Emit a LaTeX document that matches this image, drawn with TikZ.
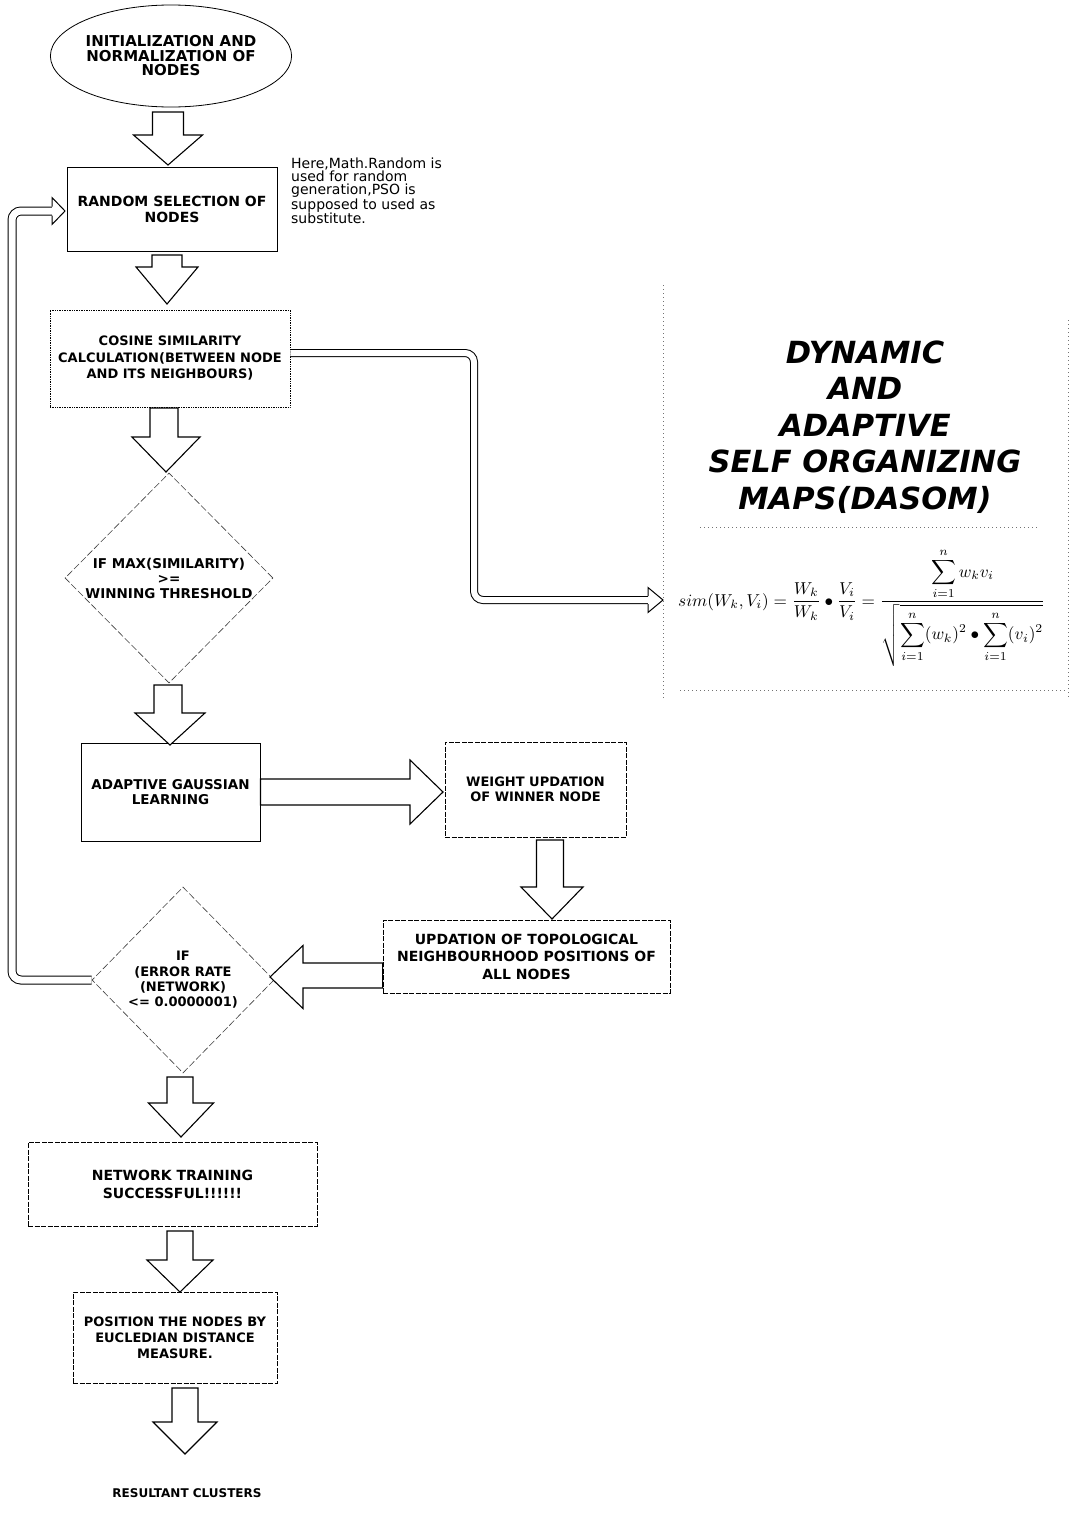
\documentclass[tikz,border=0pt]{standalone}
\usepackage{fontspec}
\setmainfont{DejaVu Sans}
\usepackage{graphicx}
\usetikzlibrary{shapes.geometric,calc}
\newcommand\fsz[2]{\fontsize{#1}{#2}\selectfont}
% vertical block arrow: #1 start, #2 tip, #3 shaft half width, #4 head half width, #5 head length
\newcommand\blockV[5]{\draw[blockarrow] let \p1=(#1), \p2=(#2) in
 (\x1-#3pt,\y1) -- (\x1-#3pt,\y2+#5pt) -- (\x2-#4pt,\y2+#5pt) -- (\x2,\y2) -- (\x2+#4pt,\y2+#5pt) -- (\x1+#3pt,\y2+#5pt) -- (\x1+#3pt,\y1) -- cycle;}
\newcommand\blockR[5]{\draw[blockarrow] let \p1=(#1), \p2=(#2) in
 (\x1,\y1+#3pt) -- (\x2-#5pt,\y1+#3pt) -- (\x2-#5pt,\y2+#4pt) -- (\x2,\y2) -- (\x2-#5pt,\y2-#4pt) -- (\x2-#5pt,\y1-#3pt) -- (\x1,\y1-#3pt) -- cycle;}
\newcommand\blockL[5]{\draw[blockarrow] let \p1=(#1), \p2=(#2) in
 (\x1,\y1+#3pt) -- (\x2+#5pt,\y1+#3pt) -- (\x2+#5pt,\y2+#4pt) -- (\x2,\y2) -- (\x2+#5pt,\y2-#4pt) -- (\x2+#5pt,\y1-#3pt) -- (\x1,\y1-#3pt) -- cycle;}
\begin{document}
\begin{tikzpicture}[x=1pt,y=-1pt,
  box/.style={draw, line width=0.9pt, align=center, inner sep=0pt, font=\bfseries},
  dbox/.style={box, dash pattern=on 5pt off 1.5pt},
  dotbox/.style={box, line width=0.7pt, densely dotted},
  decision/.style={diamond, aspect=1, draw=black!75, line width=0.6pt, dash pattern=on 7pt off 2.5pt, align=center, inner sep=0pt, font=\bfseries},
  blockarrow/.style={draw=black, fill=white, line width=1.1pt, line join=miter},
  dblline/.style={draw=black, double=white, line width=1pt, rounded corners=9pt},
  openhead/.style={draw=black, line width=1pt, fill=white, line join=miter},
  framedot/.style={draw=black!55, line width=0.5pt, dash pattern=on 1pt off 3pt}
]
\useasboundingbox (0,0) rectangle (1076,1539);
\fill[white] (0,0) rectangle (1076,1539);

% faint frame of the title text box
\draw[framedot] (663,285) -- (663,700);
\draw[framedot] (1068,320) -- (1068,700);
\draw[framedot] (680,690) -- (1068,690);
\draw[framedot] (700,527) -- (1040,527);

% nodes
\node[ellipse, draw, line width=0.8pt, minimum width=218pt, minimum height=102pt, inner sep=0pt, align=center, font=\bfseries\fsz{15}{14.5}] (init) at (171,56) {INITIALIZATION AND\\NORMALIZATION OF\\NODES};

\node[box, minimum width=210pt, minimum height=84pt, font=\bfseries\fsz{14}{16}] (rand) at (172,209) {RANDOM SELECTION OF\\NODES};

\node[anchor=west, align=left, inner sep=0pt, font=\fsz{14}{12.8}] (note) at (291,191) {Here,Math.Random is\\used for random\\generation,PSO is\\supposed to used as\\substitute.};

\node[dotbox, minimum width=240pt, minimum height=97pt, font=\bfseries\fsz{13}{16.5}] (cos) at (170,358.5) {COSINE SIMILARITY\\CALCULATION(BETWEEN NODE\\AND ITS NEIGHBOURS)};

\node[decision, minimum width=208pt, minimum height=210pt, font=\bfseries\fsz{13.5}{15}] (dec1) at (169,578) {IF MAX(SIMILARITY)\\>=\\WINNING THRESHOLD};

\node[box, minimum width=179pt, minimum height=98pt, font=\bfseries\fsz{13.5}{15}] (agl) at (170.5,792) {ADAPTIVE GAUSSIAN\\LEARNING};

\node[dbox, minimum width=181pt, minimum height=95pt, font=\bfseries\fsz{13}{14.5}] (weight) at (535.5,789.5) {WEIGHT UPDATION\\OF WINNER NODE};

\node[dbox, minimum width=287pt, minimum height=73pt, font=\bfseries\fsz{14}{17.5}] (upd) at (526.5,956.5) {UPDATION OF TOPOLOGICAL\\NEIGHBOURHOOD POSITIONS OF\\ALL NODES};

\node[decision, minimum width=182pt, minimum height=186pt, font=\bfseries\fsz{13}{15.3}] (dec2) at (183,980) {IF\\(ERROR RATE\\(NETWORK)\\<= 0.0000001)};

\node[dbox, minimum width=289pt, minimum height=84pt, font=\bfseries\fsz{14}{18}] (net) at (172.5,1184) {NETWORK TRAINING\\SUCCESSFUL!!!!!!};

\node[dbox, minimum width=204pt, minimum height=91pt, font=\bfseries\fsz{13}{16}] (pos) at (175,1337.5) {POSITION THE NODES BY\\EUCLEDIAN DISTANCE\\MEASURE.};

\node[font=\bfseries\fsz{12}{13}] (res) at (187,1493) {RESULTANT CLUSTERS};

\node[align=center, font=\bfseries\itshape\fsz{30.5}{36.5}] (title) at (865,427) {DYNAMIC\\AND\\ADAPTIVE\\SELF ORGANIZING\\MAPS(DASOM)};

\node[inner sep=0pt, anchor=base west] (formula) at (678,606) {\resizebox{367pt}{!}{$\displaystyle sim(W_k,V_i)=\frac{W_k}{W_k}\bullet\frac{V_i}{V_i}=\frac{\displaystyle\sum_{i=1}^{n} w_k v_i}{\sqrt{\displaystyle\sum_{i=1}^{n}(w_k)^2\bullet\sum_{i=1}^{n}(v_i)^2}}$}};

% block arrows (coordinates of shaft start and tip)
\coordinate (a1s) at (168,112);   \coordinate (a1t) at (168,165);
\coordinate (a2s) at (167,255);   \coordinate (a2t) at (167,304);
\coordinate (a3s) at (164,408);   \coordinate (a3t) at (166,472);
\coordinate (a4s) at (168,685);   \coordinate (a4t) at (170,745);
\coordinate (a5s) at (180,1077);  \coordinate (a5t) at (181,1137);
\coordinate (a6s) at (180,1231);  \coordinate (a6t) at (180,1292);
\coordinate (a7s) at (185,1388);  \coordinate (a7t) at (185,1454);
\coordinate (h1s) at (agl.east);  \coordinate (h1t) at (443,792);
\coordinate (w1s) at (550,840);   \coordinate (w1t) at (552,919);
\coordinate (l1s) at (upd.west |- 0,975.5); \coordinate (l1t) at (270,977);

\blockV{a1s}{a1t}{15.5}{34.5}{30}
\blockV{a2s}{a2t}{15}{31}{37}
\blockV{a3s}{a3t}{14}{34}{35}
\blockV{a4s}{a4t}{14}{35}{32}
\blockR{h1s}{h1t}{13}{32}{33}
\blockV{w1s}{w1t}{13.5}{31}{32}
\blockL{l1s}{l1t}{12.5}{31.5}{33}
\blockV{a5s}{a5t}{13}{32.5}{34}
\blockV{a6s}{a6t}{13}{33}{32}
\blockV{a7s}{a7t}{13}{32}{32}

% cosine box -> formula (thin hollow arrow)
\coordinate (c1) at (474,353);
\coordinate (c2) at (474,600);
\coordinate (c3) at (648,600);
\coordinate (ctip) at (663,600);
\draw[dblline, double distance=6pt] ($(cos.east)+(0,-5.5)$) -- (c1) -- (c2) -- (c3);
\draw[openhead] (648,596) -- (648,587.5) -- (ctip) -- (648,612.5) -- (648,604);

% feedback loop: error decision -> random selection
\coordinate (f1) at (12,980);
\coordinate (f2) at (12,211);
\coordinate (f3) at (52,211);
\coordinate (ftip) at (65,211);
\draw[dblline, double distance=7pt] (dec2.west) -- (f1) -- (f2) -- (f3);
\draw[openhead] (52,206.5) -- (52,197.5) -- (ftip) -- (52,224.5) -- (52,215.5);
\end{tikzpicture}
\end{document}
